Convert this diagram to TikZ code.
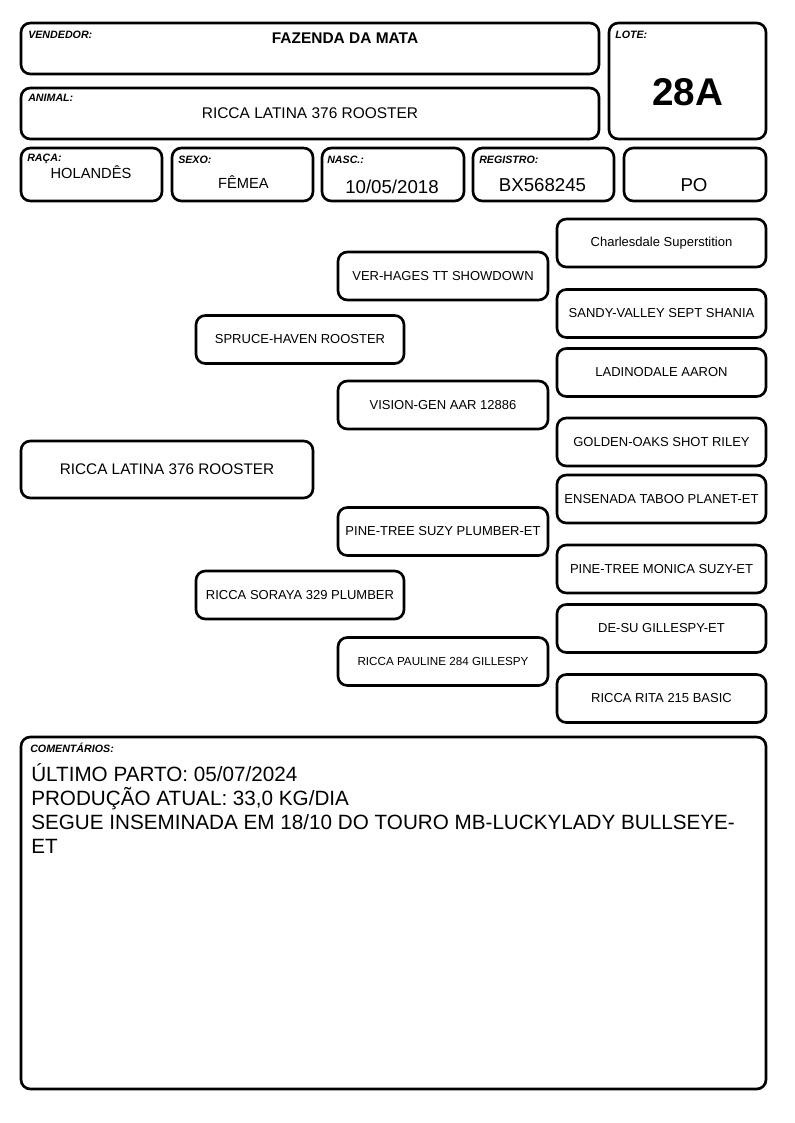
\documentclass[tikz,border=0pt]{standalone}
\usepackage{fontspec}
\setmainfont{Liberation Sans}
\newcommand{\sz}[1]{\fontsize{#1}{#1}\selectfont}

\begin{document}
\begin{tikzpicture}[x=0.75pt,y=-0.75pt,
	box/.style={line width=2pt, rounded corners=7pt},
	lbl/.style={anchor=base west, inner sep=0pt, font=\sz{8pt}\bfseries\itshape},
	val/.style={anchor=base, inner sep=0pt},
	ped/.style={draw, line width=2pt, rounded corners=7pt, minimum height=36pt, inner sep=0pt, font=\sz{9.75pt}}]
	\useasboundingbox (0,0) rectangle (794,1123);

	% header fields
	\draw[box] (21,23) rectangle (599,74);
	\node[lbl] (vendlbl) at (28,38.3) {VENDEDOR:};
	\node[val, font=\sz{11.6pt}\bfseries] (vend) at (345,43.3) {FAZENDA DA MATA};
	\draw[box] (21,88) rectangle (599,139);
	\node[lbl] (animlbl) at (28,102) {ANIMAL:};
	\node[val, font=\sz{11.6pt}] (anim) at (310,119) {RICCA LATINA 376 ROOSTER};
	\draw[box] (609,23) rectangle (766,139);
	\node[lbl] (lotelbl) at (615,39) {LOTE:};
	\node[val, font=\sz{29pt}\bfseries] (lote) at (687.5,105.7) {28A};

	\draw[box] (21,148) rectangle (162,201);
	\node[lbl] (racalbl) at (27,162) {RAÇA:};
	\node[val, font=\sz{11pt}] (raca) at (91,178.3) {HOLANDÊS};
	\draw[box] (172,148) rectangle (313,201);
	\node[lbl] (sexolbl) at (178,164) {SEXO:};
	\node[val, font=\sz{11pt}] (sexo) at (243.5,189) {FÊMEA};
	\draw[box] (322,148) rectangle (464,201);
	\node[lbl] (nasclbl) at (327,164) {NASC.:};
	\node[val, font=\sz{14pt}] (nasc) at (392,193.3) {10/05/2018};
	\draw[box] (473,148) rectangle (614,201);
	\node[lbl] (reglbl) at (479,164) {REGISTRO:};
	\node[val, font=\sz{14pt}] (reg) at (542.5,191.7) {BX568245};
	\draw[box] (624,148) rectangle (766,201);
	\node[val, font=\sz{14pt}] (cat) at (694,191.7) {PO};

	% pedigree
	\node[ped, minimum width=219pt, minimum height=42.75pt, font=\sz{11.5pt}] (p0) at (167,469.5) {RICCA LATINA 376 ROOSTER};
	\node[ped, minimum width=156pt] (p1) at (300,339.5) {SPRUCE-HAVEN ROOSTER};
	\node[ped, minimum width=156pt] (p2) at (300,595) {RICCA SORAYA 329 PLUMBER};
	\node[ped, minimum width=157.5pt] (p11) at (443,276) {VER-HAGES TT SHOWDOWN};
	\node[ped, minimum width=157.5pt] (p12) at (443,405) {VISION-GEN AAR 12886};
	\node[ped, minimum width=157.5pt] (p21) at (443,531.5) {PINE-TREE SUZY PLUMBER-ET};
	\node[ped, minimum width=157.5pt, font=\sz{8.75pt}] (p22) at (443,661.5) {RICCA PAULINE 284 GILLESPY};
	\foreach \y/\name [count=\i] in {243/Charlesdale Superstition, 313.5/SANDY-VALLEY SEPT SHANIA,
		372.5/LADINODALE AARON, 442/GOLDEN-OAKS SHOT RILEY, 499/ENSENADA TABOO PLANET-ET,
		569/PINE-TREE MONICA SUZY-ET, 628.5/DE-SU GILLESPY-ET, 698.5/RICCA RITA 215 BASIC}
		\node[ped, minimum width=156.75pt] (g\i) at (661.5,\y) {\name};

	% comments
	\draw[box] (21,737) rectangle (766,1089);
	\node[lbl] (comlbl) at (30,752.7) {COMENTÁRIOS:};
	\foreach \txt [count=\i] in {ÚLTIMO PARTO: 05/07/2024, PRODUÇÃO ATUAL: 33{,}0 KG/DIA,
		SEGUE INSEMINADA EM 18/10 DO TOURO MB-LUCKYLADY BULLSEYE-, ET}
		\node[anchor=base west, inner sep=0pt, font=\sz{15.5pt}] (c\i) at (31,757+24*\i) {\txt};
\end{tikzpicture}
\end{document}
